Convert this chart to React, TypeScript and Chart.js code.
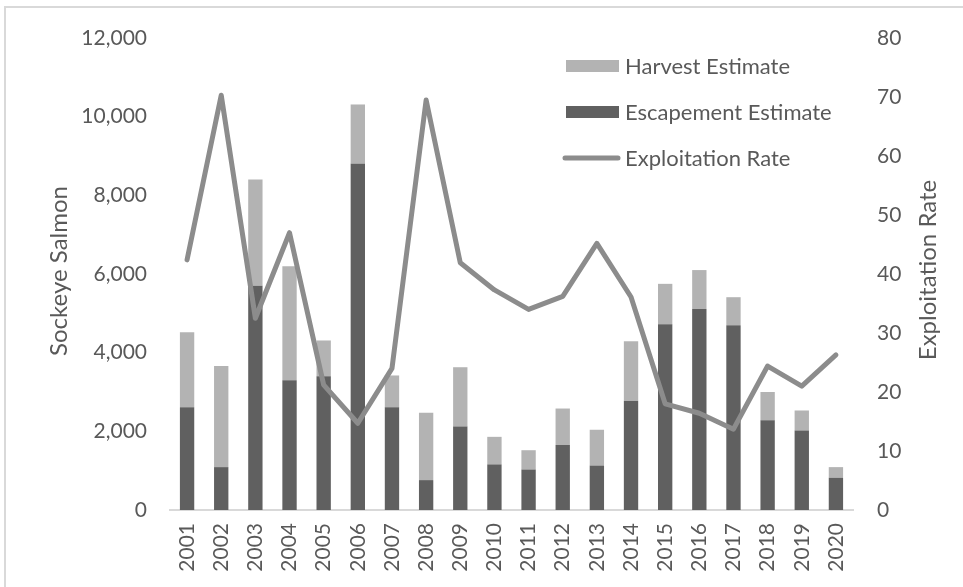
import React, { useEffect, useRef } from 'react';
import { Chart, registerables } from 'chart.js';

Chart.register(...registerables);

const years = ['2001','2002','2003','2004','2005','2006','2007','2008','2009','2010','2011','2012','2013','2014','2015','2016','2017','2018','2019','2020'];
const escapementEstimate = [2610, 1090, 5700, 3300, 3400, 8800, 2610, 760, 2120, 1160, 1030, 1650, 1130, 2780, 4720, 5110, 4700, 2280, 2020, 820];
const totalRun = [4520, 3660, 8400, 6200, 4310, 10310, 3420, 2470, 3630, 1860, 1520, 2580, 2040, 4290, 5750, 6100, 5410, 3000, 2530, 1090];
const harvestEstimate = totalRun.map((t, i) => t - escapementEstimate[i]);
const exploitationRate = [42.4, 70.3, 32.5, 47.0, 21.2, 14.7, 24.0, 69.5, 41.9, 37.3, 34.0, 36.2, 45.2, 36.1, 18.0, 16.4, 13.7, 24.4, 21.0, 26.3];

const leftAxisTitle = 'Sockeye Salmon';
const rightAxisTitle = 'Exploitation Rate';
const legendLabels = ['Harvest Estimate', 'Escapement Estimate', 'Exploitation Rate'];

const TEXT = '#595959';
const HARVEST = '#b3b3b3';
const ESCAPE = '#606060';
const LINE = '#8c8c8c';
const FONT_FAMILY = 'Lato, "Open Sans", sans-serif';
const TICK_SIZE = 21;
const LEGEND_SIZE = 22;
const TITLE_SIZE = 24;

const overlayPlugin = {
  id: 'overlay',
  beforeDraw(chart: any) {
    const ctx = chart.ctx;
    ctx.save();
    ctx.fillStyle = '#ffffff';
    ctx.fillRect(0, 0, chart.width, chart.height);
    ctx.strokeStyle = '#d9d9d9';
    ctx.lineWidth = 2;
    ctx.strokeRect(5, 7, chart.width + 10, chart.height + 10);
    ctx.restore();
  },
  afterDraw(chart: any) {
    const ctx = chart.ctx;
    ctx.save();
    ctx.fillStyle = TEXT;
    ctx.textAlign = 'center';
    ctx.textBaseline = 'alphabetic';
    ctx.font = `${TITLE_SIZE}px ${FONT_FAMILY}`;
    // axis titles
    ctx.save();
    ctx.translate(67, 271);
    ctx.rotate(-Math.PI / 2);
    ctx.fillText(leftAxisTitle, 0, 0);
    ctx.restore();
    ctx.save();
    ctx.translate(936, 270);
    ctx.rotate(-Math.PI / 2);
    ctx.fillText(rightAxisTitle, 0, 0);
    ctx.restore();
    // legend
    ctx.font = `${LEGEND_SIZE}px ${FONT_FAMILY}`;
    ctx.textBaseline = 'middle';
    const lx = 566;
    const tx = 625;
    const rows = [66, 112, 158];
    ctx.textAlign = 'left';
    ctx.fillStyle = HARVEST;
    ctx.fillRect(lx, rows[0] - 6, 53, 12);
    ctx.fillStyle = ESCAPE;
    ctx.fillRect(lx, rows[1] - 6, 53, 12);
    ctx.strokeStyle = LINE;
    ctx.lineWidth = 5;
    ctx.lineCap = 'round';
    ctx.beginPath();
    ctx.moveTo(lx - 1, rows[2]);
    ctx.lineTo(lx + 52, rows[2]);
    ctx.stroke();
    ctx.fillStyle = TEXT;
    legendLabels.forEach((l, i) => ctx.fillText(l, tx, rows[i] + 1));
    ctx.restore();
  },
};

export default function App() {
  const ref = useRef<HTMLCanvasElement | null>(null);
  useEffect(() => {
    document.body.style.margin = '0';
    const canvas = ref.current;
    if (!canvas) return;
    const chart = new Chart(canvas, {
      type: 'bar',
      data: {
        labels: years,
        datasets: [
          {
            type: 'line',
            label: legendLabels[2],
            data: exploitationRate,
            yAxisID: 'y1',
            borderColor: LINE,
            borderWidth: 5,
            pointRadius: 0,
            tension: 0,
            borderCapStyle: 'round',
            borderJoinStyle: 'round',
            order: 0,
          } as any,
          {
            type: 'bar',
            label: legendLabels[1],
            data: escapementEstimate,
            backgroundColor: ESCAPE,
            yAxisID: 'y',
            order: 1,
            barPercentage: 0.42,
            categoryPercentage: 1,
          },
          {
            type: 'bar',
            label: legendLabels[0],
            data: harvestEstimate,
            backgroundColor: HARVEST,
            yAxisID: 'y',
            order: 1,
            barPercentage: 0.42,
            categoryPercentage: 1,
          },
        ],
      },
      options: {
        animation: false,
        responsive: false,
        maintainAspectRatio: false,
        layout: { padding: { top: 38, left: 0, right: 0, bottom: 0 } },
        plugins: { legend: { display: false }, tooltip: { enabled: false } },
        scales: {
          x: {
            stacked: true,
            offset: true,
            grid: { display: false, drawTicks: false },
            border: { display: true, color: '#d9d9d9', width: 2 },
            ticks: {
              color: TEXT,
              font: { family: FONT_FAMILY, size: TICK_SIZE },
              minRotation: 90,
              maxRotation: 90,
              padding: 13,
              autoSkip: false,
            },
            afterFit: (s: any) => { s.height = 77; },
          },
          y: {
            stacked: true,
            position: 'left',
            min: 0,
            max: 12000,
            grid: { display: false, drawTicks: false },
            border: { display: false },
            ticks: {
              stepSize: 2000,
              color: TEXT,
              font: { family: FONT_FAMILY, size: TICK_SIZE },
              padding: 23,
              callback: (v: any) => Number(v).toLocaleString('en-US'),
            },
            afterFit: (s: any) => { s.width = 170; },
          },
          y1: {
            position: 'right',
            min: 0,
            max: 80,
            grid: { display: false, drawTicks: false },
            border: { display: false },
            ticks: {
              stepSize: 10,
              color: TEXT,
              font: { family: FONT_FAMILY, size: TICK_SIZE },
              padding: 24,
            },
            afterFit: (s: any) => { s.width = 110; },
          },
        },
      },
      plugins: [overlayPlugin],
    });
    return () => chart.destroy();
  }, []);
  return <canvas ref={ref} width={963} height={587} style={{ display: 'block' }} />;
}
